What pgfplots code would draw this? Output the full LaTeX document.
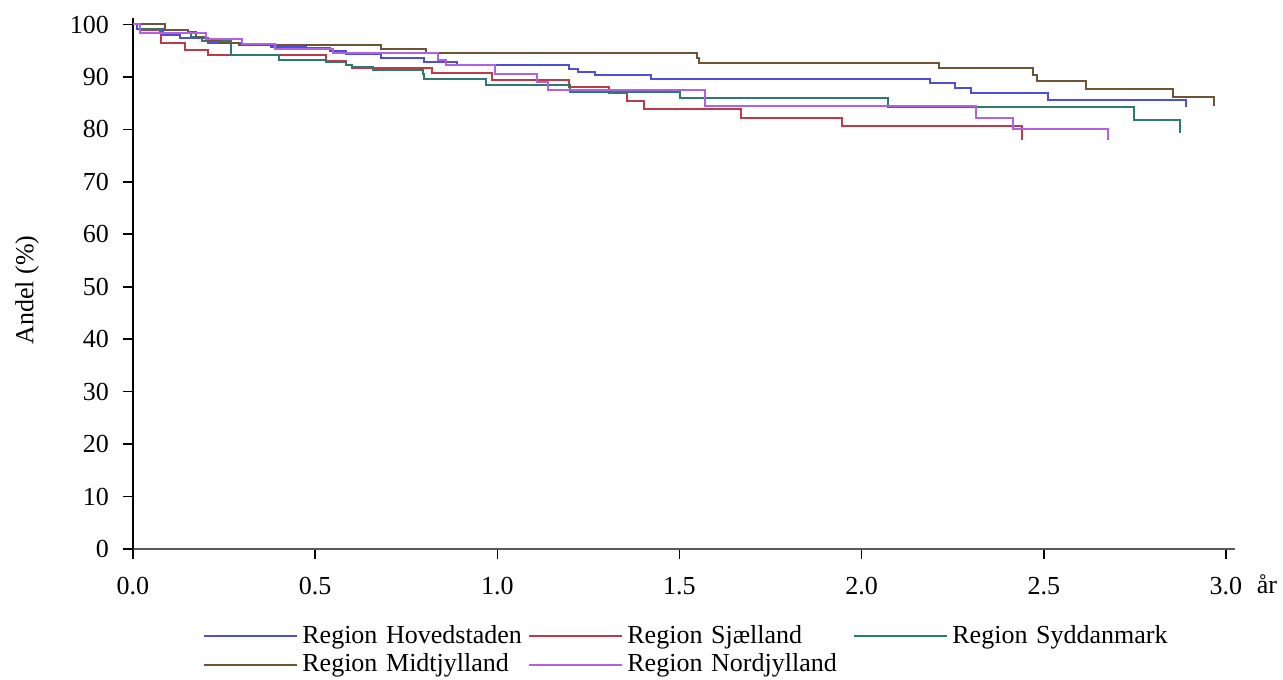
\documentclass[border=0pt]{standalone}
\usepackage{fontspec}
\setmainfont{Liberation Serif}
\usepackage{pgfplots}
\pgfplotsset{compat=1.18}
\definecolor{cHov}{RGB}{78,78,214}
\definecolor{cSja}{RGB}{190,58,72}
\definecolor{cSyd}{RGB}{46,122,110}
\definecolor{cMid}{RGB}{108,84,52}
\definecolor{cNor}{RGB}{176,98,226}
\begin{document}
\fontsize{13}{15.6}\selectfont
\begin{tikzpicture}
\useasboundingbox (-66.5pt,-65pt) rectangle (575pt,274.5pt);
\begin{axis}[
  at={(0,0)}, anchor=south west,
  scale only axis, width=551pt, height=265.4pt,
  xmin=0, xmax=3.025, ymin=0, ymax=101.2,
  clip mode=individual,
  axis lines=left,
  x axis line style={-, draw=black!65, line width=1.3pt},
  y axis line style={-, draw=black, line width=0.8pt},
  tick align=outside, major tick length=5pt,
  tick style={black, line width=0.8pt},
  xtick={0,0.5,1,1.5,2,2.5,3},
  ytick={0,10,...,100},
  xticklabel style={yshift=-4.5pt, /pgf/number format/.cd, fixed, fixed zerofill, precision=1},
  yticklabel style={xshift=-2.5pt},
  /pgf/number format/assume math mode=true,
  tick label style={font=\fontsize{13}{15.6}\selectfont},
  legend columns=3,
  legend cell align=left,
  legend style={at={(0.0635,-0.137)}, anchor=north west, draw=none, inner sep=0pt,
    font=\fontsize{13}{15.6}\selectfont,
    nodes={inner xsep=2pt, inner ysep=1.6pt},
    /tikz/every even column/.append style={text width=111pt, align=left, column sep=0pt}},
  legend image code/.code={\draw[#1] (0pt,0pt) -- (46.5pt,0pt);},
  every axis plot/.append style={line width=1pt, const plot},
]
\addplot[cHov] coordinates {(0,100) (0.01,99.2) (0.083,97.9) (0.13,97.4) (0.205,96.5) (0.30,96.1) (0.38,95.8) (0.475,95.5) (0.54,94.9) (0.585,94.3) (0.68,93.6) (0.80,92.8) (0.89,92.3) (1.196,91.5) (1.221,91.0) (1.267,90.4) (1.423,89.7) (2.187,88.85) (2.255,87.8) (2.30,86.9) (2.513,85.6) (2.891,84.3)};
\addlegendentry{Region Hovedstaden}
\addplot[cSja] coordinates {(0,100) (0.02,99.0) (0.076,96.4) (0.142,95.2) (0.205,94.2) (0.53,93.0) (0.585,92.2) (0.60,91.7) (0.82,90.7) (0.986,89.4) (1.198,88.0) (1.306,86.9) (1.355,85.4) (1.403,83.8) (1.67,82.2) (1.946,80.6) (2.439,78.0)};
\addlegendentry{Region Sjælland}
\addplot[cSyd] coordinates {(0,100) (0.02,99.2) (0.074,98.4) (0.16,97.6) (0.19,96.8) (0.268,94.2) (0.40,93.3) (0.53,92.8) (0.585,92.3) (0.60,91.8) (0.66,91.4) (0.795,90.6) (0.80,89.6) (0.97,88.5) (1.20,87.1) (1.502,85.9) (2.072,84.2) (2.747,81.8) (2.874,79.4)};
\addlegendentry{Region Syddanmark}
\addplot[cMid] coordinates {(0,100) (0.088,99.0) (0.15,98.5) (0.174,97.7) (0.20,97.1) (0.24,96.5) (0.29,96.1) (0.68,95.3) (0.805,94.6) (1.547,93.7) (1.553,92.7) (2.213,91.7) (2.471,90.4) (2.482,89.2) (2.615,87.7) (2.855,86.2) (2.967,84.5)};
\addlegendentry{Region Midtjylland}
\addplot[cNor] coordinates {(0,100) (0.02,98.4) (0.2,97.3) (0.30,96.2) (0.39,95.4) (0.55,94.6) (0.837,93.3) (0.86,92.3) (0.995,90.5) (1.109,89.0) (1.139,87.5) (1.57,84.4) (2.313,82.2) (2.415,80.1) (2.677,78.0)};
\addlegendentry{Region Nordjylland}
\node[anchor=center, xshift=-53pt, rotate=90] at (axis cs:0,49.4) {Andel (\%)};
\node[anchor=base] at (axis cs:3,0) [xshift=20.5pt, yshift=-22pt] {år};
\end{axis}
\end{tikzpicture}
\end{document}
